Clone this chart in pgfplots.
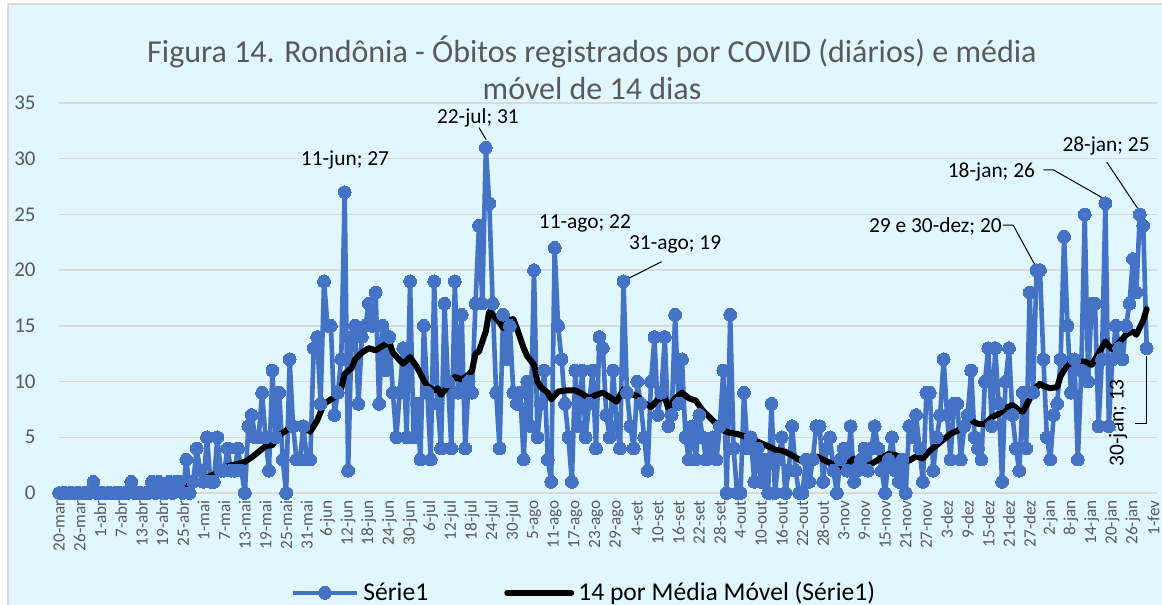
\documentclass[border=0pt]{standalone}
\usepackage{fontspec}
\setmainfont{Carlito}
\usepackage{pgfplots}
\pgfplotsset{compat=1.18}
\definecolor{xlblue}{HTML}{4472C4}
\definecolor{bgcyan}{HTML}{E1F7FE}
\definecolor{gridgray}{HTML}{D9D9D9}
\definecolor{txtgray}{HTML}{595959}
\newcommand{\lbl}{\fontsize{10.7}{12}\selectfont}

\begin{document}
\begin{tikzpicture}
\useasboundingbox (0pt,0pt) rectangle (581pt,302.5pt);
\fill[white] (0pt,0pt) rectangle (581pt,302.5pt);
\filldraw[fill=bgcyan, draw=gridgray, line width=0.75pt] (4pt,-2pt) rectangle (585pt,300.5pt);
\node[font=\fontsize{16}{18.5}\selectfont, text=txtgray, align=center] at (296pt,268.5pt)
  {Figura 14. Rondônia - Óbitos registrados por COVID (diários) e média\\móvel de 14 dias};

\begin{axis}[
  at={(29.5pt,56pt)}, anchor=south west,
  scale only axis, width=549pt, height=195pt,
  xmin=0, xmax=319, ymin=0, ymax=35,
  clip=false,
  axis line style={draw=none},
  major tick length=0pt,
  ymajorgrids, grid style={gridgray, line width=0.75pt},
  ytick={0,5,...,35},
  xtick={0,6,...,318},
  xticklabels={20-mar,26-mar,1-abr,7-abr,13-abr,19-abr,25-abr,1-mai,7-mai,13-mai,19-mai,25-mai,31-mai,6-jun,12-jun,18-jun,24-jun,30-jun,6-jul,12-jul,18-jul,24-jul,30-jul,5-ago,11-ago,17-ago,23-ago,29-ago,4-set,10-set,16-set,22-set,28-set,4-out,10-out,16-out,22-out,28-out,3-nov,9-nov,15-nov,21-nov,27-nov,3-dez,9-dez,15-dez,21-dez,27-dez,2-jan,8-jan,14-jan,20-jan,26-jan,1-fev},
  xticklabel style={yshift=-3.5pt, rotate=90, anchor=east, inner sep=0pt, font=\fontsize{8.6}{10}\selectfont, text=txtgray},
  yticklabel style={anchor=east, inner sep=0pt, xshift=-11.5pt, font=\fontsize{10.5}{12}\selectfont, text=txtgray},
  /pgf/number format/assume math mode=true,
  legend style={at={(0.479,-0.256)}, anchor=center, legend columns=2, draw=none, fill=none,
    font=\fontsize{12.8}{14}\selectfont,
    /tikz/every even column/.append style={column sep=36pt}},
  legend image code/.code={\draw[mark repeat=2,mark phase=2,#1] plot coordinates {(0pt,0pt) (16pt,0pt) (32pt,0pt)};},
]
\addplot[xlblue, line width=2.3pt, line join=round, mark=*, mark size=3.2pt,
  mark options={solid, fill=xlblue, draw=xlblue, line width=0pt}] coordinates {
(0,0) (1,0) (2,0) (3,0) (4,0) (5,0) (6,0) (7,0) (8,0) (9,0)
(10,1) (11,0) (12,0) (13,0) (14,0) (15,0) (16,0) (17,0) (18,0) (19,0)
(20,0) (21,1) (22,0) (23,0) (24,0) (25,0) (26,0) (27,1) (28,0) (29,1)
(30,0) (31,0) (32,1) (33,0) (34,1) (35,1) (36,0) (37,3) (38,0) (39,1)
(40,4) (41,2) (42,1) (43,5) (44,1) (45,1) (46,5) (47,2) (48,2) (49,4)
(50,2) (51,2) (52,4) (53,2) (54,0) (55,6) (56,7) (57,5) (58,5) (59,9)
(60,5) (61,2) (62,11) (63,5) (64,9) (65,3) (66,0) (67,12) (68,6) (69,3)
(70,3) (71,6) (72,3) (73,3) (74,13) (75,14) (76,8) (77,19) (78,15) (79,15)
(80,7) (81,9) (82,12) (83,27) (84,2) (85,14) (86,15) (87,8) (88,14) (89,15)
(90,17) (91,15) (92,18) (93,8) (94,15) (95,11) (96,14) (97,9) (98,5) (99,9)
(100,13) (101,5) (102,19) (103,5) (104,8) (105,3) (106,15) (107,9) (108,3) (109,19)
(110,8) (111,4) (112,17) (113,10) (114,4) (115,19) (116,9) (117,16) (118,4) (119,10)
(120,9) (121,17) (122,24) (123,17) (124,31) (125,26) (126,17) (127,9) (128,4) (129,16)
(130,12) (131,15) (132,9) (133,8) (134,9) (135,3) (136,10) (137,6) (138,20) (139,5)
(140,8) (141,11) (142,3) (143,1) (144,22) (145,15) (146,12) (147,8) (148,5) (149,1)
(150,11) (151,6) (152,11) (153,5) (154,8) (155,11) (156,4) (157,14) (158,13) (159,7)
(160,5) (161,11) (162,6) (163,4) (164,19) (165,9) (166,6) (167,4) (168,10) (169,8)
(170,5) (171,2) (172,10) (173,14) (174,7) (175,9) (176,14) (177,6) (178,7) (179,16)
(180,8) (181,12) (182,5) (183,3) (184,6) (185,3) (186,7) (187,5) (188,3) (189,4)
(190,5) (191,3) (192,6) (193,11) (194,0) (195,16) (196,4) (197,0) (198,0) (199,9)
(200,4) (201,5) (202,1) (203,4) (204,1) (205,3) (206,0) (207,8) (208,0) (209,3)
(210,5) (211,0) (212,2) (213,6) (214,2) (215,0) (216,0) (217,3) (218,1) (219,3)
(220,6) (221,6) (222,1) (223,4) (224,5) (225,2) (226,0) (227,3) (228,4) (229,2)
(230,6) (231,1) (232,2) (233,3) (234,4) (235,2) (236,4) (237,6) (238,4) (239,2)
(240,0) (241,3) (242,5) (243,2) (244,1) (245,3) (246,0) (247,6) (248,5) (249,7)
(250,4) (251,1) (252,9) (253,9) (254,2) (255,5) (256,7) (257,12) (258,7) (259,3)
(260,8) (261,8) (262,3) (263,6) (264,7) (265,11) (266,5) (267,4) (268,3) (269,10)
(270,13) (271,6) (272,13) (273,8) (274,1) (275,10) (276,13) (277,7) (278,4) (279,2)
(280,9) (281,4) (282,18) (283,9) (284,20) (285,20) (286,12) (287,5) (288,3) (289,7)
(290,8) (291,12) (292,23) (293,15) (294,9) (295,12) (296,3) (297,11) (298,25) (299,10)
(300,17) (301,17) (302,6) (303,12) (304,26) (305,6) (306,12) (307,15) (308,13) (309,12)
(310,15) (311,17) (312,21) (313,18) (314,25) (315,24) (316,13)
};
\addlegendentry{Série1}
\addplot[black, line width=3pt, line join=round, line cap=round, mark=none] coordinates {
(13,0.1) (20,0.2) (27,0.3) (35,0.45) (38,0.7) (40,0.9) (43,1.4) (46,1.8) (48,2.3) (50,2.5)
(52,2.6) (54,2.8) (56,3.2) (58,3.7) (60,4.2) (62,4.3) (64,5.2) (66,5.6) (68,6.3) (70,5.9)
(72,5.7) (73,5.5) (75,6.5) (77,8.0) (79,8.4) (81,8.8) (82,9.4) (83,10.7) (85,11.2) (86,12.0)
(88,12.6) (90,13.0) (92,12.8) (94,13.2) (96,13.5) (97,12.6) (99,11.9) (100,11.6) (102,12.2) (104,11.3)
(106,10.1) (107,9.6) (109,9.2) (110,9.4) (111,8.8) (113,9.6) (115,10.4) (117,10.2) (119,10.6) (120,11.0)
(121,12.5) (122,12.7) (124,14.5) (125,16.3) (126,16.0) (128,15.3) (129,14.8) (130,15.5) (132,15.6) (133,14.8)
(135,13.0) (136,12.3) (138,11.5) (139,10.0) (140,9.5) (142,9.0) (143,8.4) (145,9.1) (147,9.2) (150,9.2)
(152,8.9) (154,8.5) (156,8.8) (158,9.0) (160,8.6) (162,8.2) (164,9.3) (166,8.9) (168,8.7) (170,8.1)
(172,7.7) (174,8.4) (176,8.6) (177,7.6) (179,8.5) (181,9.0) (183,8.5) (185,8.3) (187,7.4) (189,6.8)
(191,6.2) (193,5.6) (195,5.4) (197,5.3) (200,5.0) (203,4.6) (206,4.2) (208,3.9) (211,3.7) (214,3.2)
(216,2.8) (218,2.9) (220,3.3) (222,3.0) (224,2.7) (226,2.4) (227,2.2) (229,2.6) (231,3.1) (233,2.8)
(235,2.4) (237,2.8) (239,3.2) (241,3.5) (243,3.4) (245,3.1) (247,2.9) (249,3.3) (251,3.1) (253,3.8)
(255,4.3) (257,4.8) (259,5.3) (261,5.6) (263,6.0) (265,6.5) (267,6.2) (269,6.2) (271,6.8) (273,7.1)
(275,7.6) (277,7.9) (279,7.4) (280,7.3) (282,8.4) (283,9.2) (285,9.8) (286,9.6) (288,9.4) (290,9.5)
(291,10.5) (293,11.5) (295,11.8) (298,11.8) (300,11.5) (302,12.5) (304,13.6) (305,13.2) (306,12.9) (308,13.5)
(310,14.2) (312,14.5) (313,14.2) (315,15.5) (316,16.5)
};
\addlegendentry{14 por Média Móvel (Série1)}

% rótulos de dados
\node[font=\lbl] at (axis cs:83.1,29.9) {11-jun; 27};
\node[font=\lbl] at (axis cs:121.7,33.7) {22-jul; 31};
\draw[line width=0.5pt] (axis cs:122,32.8) -- (axis cs:124.1,31.7);
\node[font=\lbl] at (axis cs:152.8,24.2) {11-ago; 22};
\node[font=\lbl] at (axis cs:179,22.3) {31-ago; 19};
\draw[line width=0.5pt] (axis cs:175.1,20.76) -- (axis cs:164.4,19.1);
\node[font=\lbl] at (axis cs:254.6,23.9) {29 e 30-dez; 20};
\draw[line width=0.5pt] (axis cs:274.2,24.05) -- (axis cs:277.2,24.05) -- (axis cs:284,20.2);
\node[font=\lbl] at (axis cs:270.9,28.8) {18-jan; 26};
\draw[line width=0.5pt] (axis cs:286,29) -- (axis cs:288.9,29) -- (axis cs:303.4,26.45);
\node[font=\lbl] at (axis cs:304.2,31.1) {28-jan; 25};
\draw[line width=0.5pt] (axis cs:304.4,29.7) -- (axis cs:314.1,25.2);
\node[font=\lbl, rotate=90] at (axis cs:307.7,6.3) {30-jan; 13};
\draw[line width=0.5pt] (axis cs:315.8,12.3) -- (axis cs:315.8,6.25) -- (axis cs:312.6,6.25);
\end{axis}
\end{tikzpicture}
\end{document}
